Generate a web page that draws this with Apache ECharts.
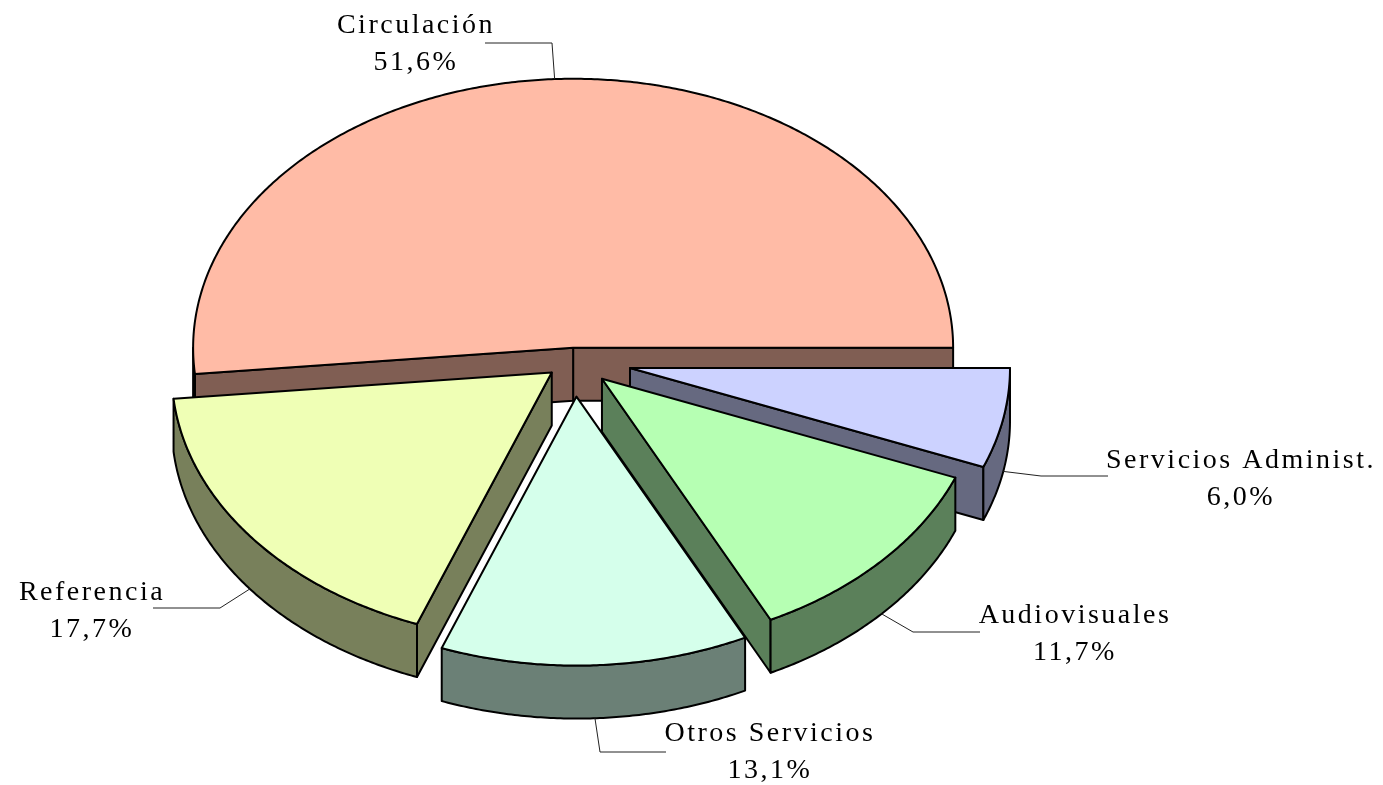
<!DOCTYPE html>
<html><head><meta charset="utf-8">
<script src="https://cdn.jsdelivr.net/npm/echarts@6/dist/echarts.min.js"></script>
<style>html,body{margin:0;padding:0;background:#fff}#c{width:1383px;height:785px}</style>
</head><body><div id="c"></div>
<script>
// ---- data ----
const CATEGORIES = ['Circulación', 'Referencia', 'Otros Servicios', 'Audiovisuales', 'Servicios Administ.'];
const VALUES = [51.6, 17.7, 13.1, 11.7, 6.0];

// ---- styles / layout ----
const TOP_COLORS = ['#FFBBA6', '#EFFFB5', '#D5FFEB', '#B6FFB3', '#CCD2FF'];
const PIE = { cx: 574, cy: 360.5, rx: 380, ry: 269, depth: 53, startAngle: 0 };
const EXPLODE = [18, 28, 51, 38, 57];
const LABELS = [
  { x: 416, y: 44, elbow: [552, 43], end: [485, 43] },
  { x: 92, y: 611, elbow: [220, 608], end: [153, 608] },
  { x: 770, y: 752, elbow: [600, 752], end: [666, 752] },
  { x: 1075, y: 634, elbow: [913, 632], end: [980, 632] },
  { x: 1241, y: 479, elbow: [1041, 476], end: [1108, 476] }
];
const FONT_SIZE = 28, LINE_H = 37;

const total = VALUES.reduce((a, b) => a + b, 0);
const angles = [];
let acc = PIE.startAngle;
VALUES.forEach(v => { const s = acc; acc += v / total * 360; angles.push([s, acc]); });
const RAD = Math.PI / 180;
const order = VALUES.map((v, i) => i).sort((a, b) => {
  const ma = (angles[a][0] + angles[a][1]) / 2, mb = (angles[b][0] + angles[b][1]) / 2;
  return Math.sin(mb * RAD) - Math.sin(ma * RAD);
});
const rank = [];
order.forEach((idx, r) => { rank[idx] = r; });

function shade(hex, f) {
  const n = parseInt(hex.slice(1), 16);
  const r = Math.round(((n >> 16) & 255) * f), g = Math.round(((n >> 8) & 255) * f), b = Math.round((n & 255) * f);
  return 'rgb(' + r + ',' + g + ',' + b + ')';
}
function pt(ox, oy, deg, dy) {
  return [ox + PIE.rx * Math.cos(deg * RAD), oy - PIE.ry * Math.sin(deg * RAD) + (dy || 0)];
}
function arcPts(ox, oy, a0, a1, dy) {
  const n = Math.max(2, Math.ceil(Math.abs(a1 - a0) * 2));
  const pts = [];
  for (let k = 0; k <= n; k++) pts.push(pt(ox, oy, a0 + (a1 - a0) * k / n, dy));
  return pts;
}

function renderItem(params, api) {
  const i = params.dataIndex;
  const a0 = angles[i][0], a1 = angles[i][1];
  const m = (a0 + a1) / 2;
  const e = EXPLODE[i];
  const ox = PIE.cx + e * Math.cos(m * RAD);
  const oy = PIE.cy - e * Math.sin(m * RAD) * PIE.ry / PIE.rx;
  const D = PIE.depth;
  const topC = TOP_COLORS[i], sideC = shade(topC, 0.5);
  const base = rank[i] * 10;
  const line = { stroke: '#000', lineWidth: 2, lineJoin: 'round' };
  const children = [];
  function wall(a) {
    const p = pt(ox, oy, a);
    children.push({
      type: 'polygon', z2: base + 1,
      shape: { points: [[ox, oy], p, [p[0], p[1] + D], [ox, oy + D]] },
      style: Object.assign({ fill: sideC }, line)
    });
  }
  if (Math.cos(a0 * RAD) > 1e-6) wall(a0);
  if (Math.cos(a1 * RAD) < -1e-6) wall(a1);
  const lo = Math.max(a0, 180), hi = Math.min(a1, 360);
  if (hi > lo) {
    const topArc = arcPts(ox, oy, lo, hi, 0);
    const botArc = arcPts(ox, oy, hi, lo, D);
    children.push({
      type: 'polygon', z2: base + 2,
      shape: { points: topArc.concat(botArc) },
      style: Object.assign({ fill: sideC }, line)
    });
  }
  children.push({
    type: 'polygon', z2: base + 3,
    shape: { points: [[ox, oy]].concat(arcPts(ox, oy, a0, a1, 0)) },
    style: Object.assign({ fill: topC }, line)
  });
  // label + leader
  const L = LABELS[i];
  const anchor = pt(ox, oy, m, Math.sin(m * RAD) < 0 ? D : 0);
  children.push({
    type: 'polyline', z2: 100,
    shape: { points: [anchor, L.elbow, L.end] },
    style: { stroke: '#222', lineWidth: 1, fill: null }
  });
  const valTxt = api.value(0).toFixed(1).replace('.', ',') + '%';
  children.push({
    type: 'text', z2: 101,
    style: {
      x: L.x, y: L.y,
      text: CATEGORIES[i] + '\n' + valTxt,
      fontSize: FONT_SIZE, fontFamily: '"Liberation Serif", "DejaVu Serif", serif',
      lineHeight: LINE_H, fill: '#000', align: 'center', verticalAlign: 'middle'
    }
  });
  return { type: 'group', children };
}

const chart = echarts.init(document.getElementById('c'), null, { renderer: 'canvas' });
chart.setOption({
  animation: false,
  backgroundColor: '#ffffff',
  series: [{
    type: 'custom',
    coordinateSystem: 'none',
    silent: true,
    renderItem: renderItem,
    data: VALUES.map((v, i) => ({ name: CATEGORIES[i], value: [v] }))
  }]
});
try {
  const zr = chart.getZr();
  const layers = zr.painter.getLayers ? zr.painter.getLayers() : {};
  let ok = false;
  Object.keys(layers).forEach(k => {
    const ctx = layers[k].ctx;
    if (ctx && ('letterSpacing' in ctx)) { ctx.letterSpacing = '2.5px'; ok = true; }
  });
  if (ok) zr.painter.refresh(true);
} catch (err) {}
</script>
</body></html>
